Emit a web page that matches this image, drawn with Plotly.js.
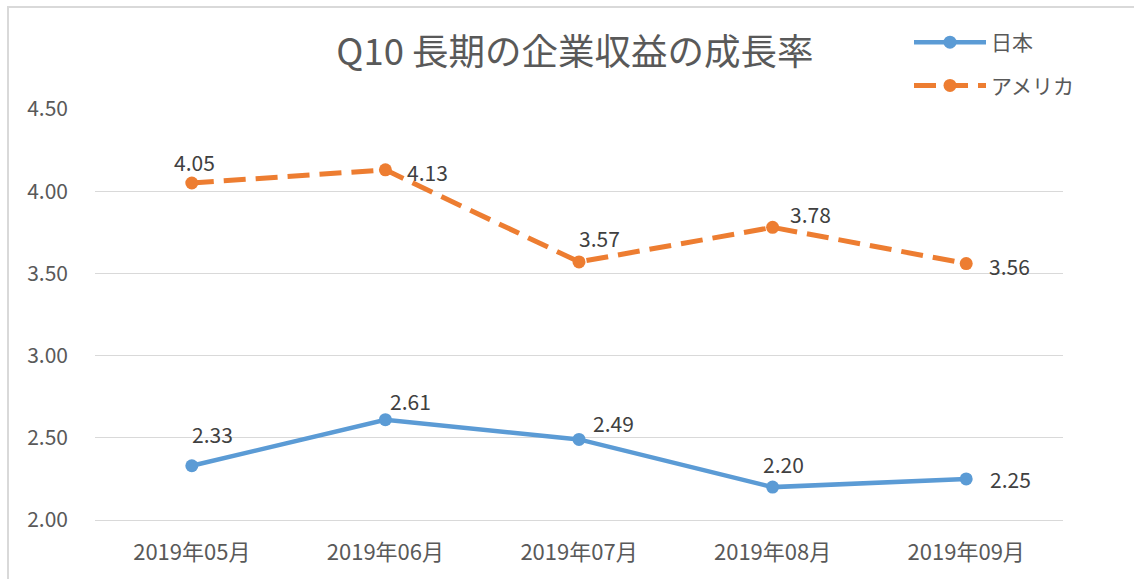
<!DOCTYPE html>
<html>
<head>
<meta charset="utf-8">
<script src="https://cdn.plot.ly/plotly-3.0.1.min.js"></script>
<style>
  html, body { margin: 0; padding: 0; background: #ffffff; overflow: hidden; }
  #frame { position: absolute; left: 7px; top: 6px; width: 1200px; height: 700px;
           border-left: 2px solid #d9d9d9; border-top: 2px solid #d9d9d9; box-sizing: border-box; pointer-events: none; z-index: 5; }
  #chart { position: absolute; left: 0; top: 0; width: 1134px; height: 579px; }
</style>
</head>
<body>
<div id="chart"></div>
<div id="frame"></div>
<script>
// ---- data ----
const chartTitle = "Q10 長期の企業収益の成長率";
const categories = ["2019年05月", "2019年06月", "2019年07月", "2019年08月", "2019年09月"];
const seriesNames = ["日本", "アメリカ"];
const japanValues = [2.33, 2.61, 2.49, 2.20, 2.25];
const usaValues = [4.05, 4.13, 3.57, 3.78, 3.56];
const yTickValues = [2.0, 2.5, 3.0, 3.5, 4.0, 4.5];

// ---- style ----
const blue = "#5B9BD5";
const orange = "#ED7D31";
const textGray = "#595959";
const labelGray = "#404040";
const fontFamily = "'Noto Sans CJK JP', 'Noto Sans', sans-serif";
// label offsets in pixels (dx, dy) relative to each point, per series
const japanLabelShift = [[21, 32], [25, 19], [34, 16], [11, 23], [44, 0]];
const usaLabelShift = [[3, 21], [42, -2], [20, 24], [38, 13], [43, -2]];

const traces = [
  {
    x: categories, y: japanValues, name: seriesNames[0], type: "scatter", mode: "lines+markers",
    line: { color: blue, width: 4.5 },
    marker: { color: blue, size: 13 },
    legendgroup: "g1", hoverinfo: "skip"
  },
  {
    x: categories, y: usaValues, name: seriesNames[1], type: "scatter", mode: "lines+markers",
    line: { color: orange, width: 5, dash: "22px,10px" },
    marker: { color: orange, size: 13 },
    legendgroup: "g2", hoverinfo: "skip"
  }
];

const annotations = [];
function addLabels(values, shifts) {
  values.forEach((v, i) => {
    annotations.push({
      x: categories[i], y: v, xref: "x", yref: "y",
      text: v.toFixed(2), showarrow: false,
      xanchor: "center", yanchor: "middle",
      xshift: shifts[i][0], yshift: shifts[i][1],
      font: { family: fontFamily, size: 21, color: labelGray }
    });
  });
}
addLabels(japanValues, japanLabelShift);
addLabels(usaValues, usaLabelShift);

const layout = {
  width: 1134, height: 579,
  margin: { l: 95, r: 71, t: 109, b: 59, pad: 0 },
  paper_bgcolor: "#ffffff", plot_bgcolor: "#ffffff",
  font: { family: fontFamily, color: textGray },
  title: {
    text: chartTitle, font: { family: fontFamily, size: 36.5, color: textGray },
    x: 0.507, xanchor: "center", xref: "container",
    y: 1 - 52 / 579, yanchor: "middle", yref: "container"
  },
  xaxis: {
    type: "category", range: [-0.5, categories.length - 0.5],
    showgrid: false, showline: true, linecolor: "#d9d9d9", linewidth: 1,
    ticks: "", tickfont: { family: fontFamily, size: 22, color: textGray },
    ticklabelstandoff: 13, fixedrange: true
  },
  yaxis: {
    range: [2, 4.5], tickvals: yTickValues, tickformat: ".2f",
    showgrid: true, gridcolor: "#d9d9d9", gridwidth: 1, zeroline: false, showline: false,
    ticks: "", tickfont: { family: fontFamily, size: 21, color: textGray },
    ticklabelstandoff: 26, fixedrange: true
  },
  showlegend: true,
  legend: {
    x: (909 - 95) / 968, y: (520 - 22) / 411, xref: "paper", yref: "paper",
    xanchor: "left", yanchor: "top",
    font: { family: fontFamily, size: 21, color: textGray },
    tracegroupgap: 13, itemwidth: 72,
    bgcolor: "rgba(0,0,0,0)"
  },
  annotations: annotations,
  hovermode: false
};

Plotly.newPlot("chart", traces, layout, { staticPlot: true, displayModeBar: false });
</script>
</body>
</html>
